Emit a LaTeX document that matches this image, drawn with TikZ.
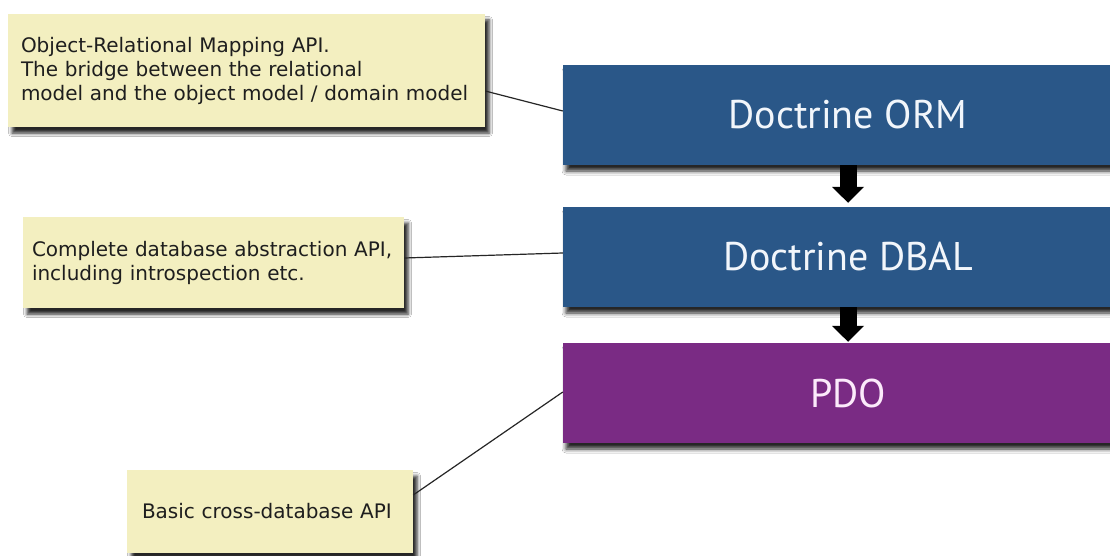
\documentclass[tikz,border=0pt]{standalone}
\usepackage{fontspec}
\setmainfont{DejaVu Sans}
\newfontfamily\layerfont{PT Sans}
\usetikzlibrary{shadows.blur,arrows.meta,calc}
\definecolor{ormblue}{HTML}{2A5788}
\definecolor{pdopurple}{HTML}{7A2B84}
\definecolor{notefill}{HTML}{F3EFC0}
\definecolor{notetext}{HTML}{1E1E1E}
\definecolor{layertext}{HTML}{F2F6FB}
\definecolor{pdotext}{HTML}{FCEAFB}
\begin{document}
\begin{tikzpicture}[x=1pt,y=-1pt,
  layerbox/.style={rectangle, inner sep=0pt, minimum width=570pt, minimum height=100pt,
    text=layertext, font=\layerfont\fontsize{40}{48}\selectfont,
    blur shadow={shadow xshift=3pt, shadow yshift=-6pt, shadow blur radius=4pt, shadow opacity=85}},
  notebox/.style={rectangle, fill=notefill, inner ysep=0pt, text=notetext,
    font=\fontsize{20}{24}\selectfont, align=left,
    blur shadow={shadow xshift=4pt, shadow yshift=-6pt, shadow blur radius=3.5pt, shadow opacity=85}},
  link/.style={draw=black!85, line width=1.2pt},
  flow/.style={draw=black, line width=17pt, -{Triangle[width=31pt,length=16pt]}}
]
\fill[white] (0,0) rectangle (1110,556);
\useasboundingbox (0,0) rectangle (1110,556);

% layers
\node[layerbox, fill=ormblue] (orm) at (848,115) {Doctrine ORM};
\node[layerbox, fill=ormblue] (dbal) at (848,257) {Doctrine DBAL};
\node[layerbox, fill=pdopurple, text=pdotext] (pdo) at (848,393) {PDO};

% notes
\node[notebox, inner xsep=13pt, text width=451pt, minimum height=113pt] (n1) at (246.5,70.5)
  {Object-Relational Mapping API.\\The bridge between the relational\\model and the object model / domain model};
\node[notebox, inner xsep=9pt, text width=363pt, minimum height=91pt] (n2) at (213.5,262.5)
  {Complete database abstraction API,\\including introspection etc.};
\node[notebox, inner xsep=15pt, text width=256pt, minimum height=83pt] (n3) at (270,511.5)
  {Basic cross-database API};

% connectors
\draw[link] ([yshift=-20.5pt]n1.east) -- ([yshift=4pt]orm.west);
\draw[link] ([yshift=4.5pt]n2.east) -- ([yshift=4pt]dbal.west);
\draw[link] ([yshift=16.5pt]n3.east) -- ([yshift=1pt]pdo.west);

% flow arrows
\draw[flow, shorten >=4pt] (orm.south) -- (dbal.north);
\draw[flow, shorten >=1pt] (dbal.south) -- (pdo.north);
\end{tikzpicture}
\end{document}
